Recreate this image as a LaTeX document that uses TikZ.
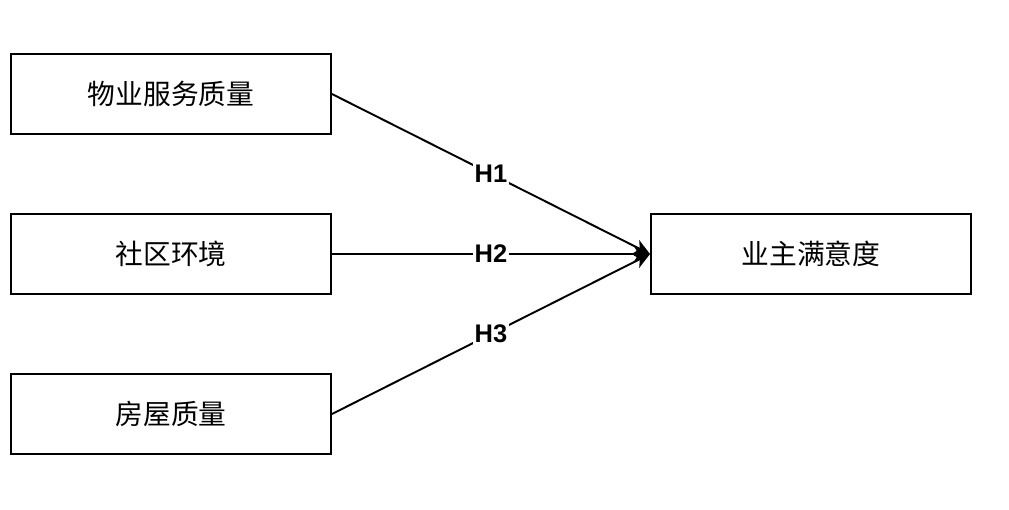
\documentclass[tikz,border=0pt]{standalone}
\usepackage{fontspec}
\setmainfont{Liberation Sans}
\newfontfamily\cjk{Noto Sans CJK SC}
\usepackage{tikz}
\usetikzlibrary{shapes,arrows,arrows.meta, positioning}
\tikzstyle{fbox} = [rectangle, draw, line width=1.1pt, minimum width=6.4cm, minimum height=1.6cm, font=\cjk\fontsize{15.8}{18}\selectfont]
\tikzstyle{line} = [draw, line width=1.1pt, -{Stealth[length=9pt, width=8.5pt, inset=2.5pt]}]
\tikzstyle{hlabel} = [fill=white, inner sep=1pt, font=\bfseries\fontsize{14.5}{17}\selectfont]

\begin{document}
\begin{tikzpicture}
			\useasboundingbox (0,0) rectangle (20.18,-10.18);
			\node [fbox] (wy) at (3.42, -1.88) {物业服务质量};
			\node [fbox] (sq) at (3.42, -5.08) {社区环境};
			\node [fbox] (fw) at (3.42, -8.28) {房屋质量};
			\node [fbox] (my) at (16.22, -5.08) {业主满意度};
		
			\path [line] (wy.east) -- node [hlabel] {H1} (my.west);
			\path [line] (sq.east) -- node [hlabel] {H2} (my.west);
			\path [line] (fw.east) -- node [hlabel] {H3} (my.west);
		\end{tikzpicture}
\end{document}
